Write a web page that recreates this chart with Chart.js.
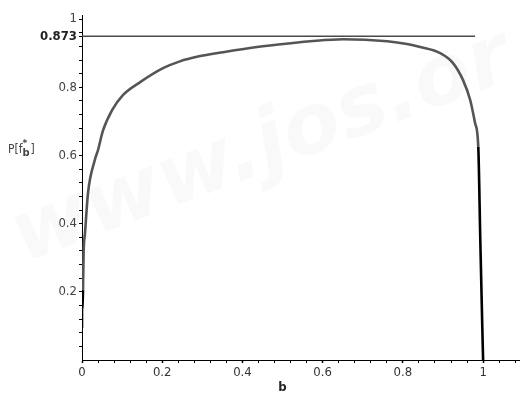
<!DOCTYPE html>
<html><head><meta charset="utf-8">
<script src="https://cdn.jsdelivr.net/npm/chart.js@4"></script>
<style>html,body{margin:0;padding:0;background:#fff}#wrap{width:520px;height:395px;position:relative}</style>
</head><body><div id="wrap"><canvas id="c"></canvas></div>
<script>
const bValues = [0.0, 0.0, 0.0025, 0.004, 0.0075, 0.015, 0.032, 0.040, 0.052, 0.075, 0.102, 0.145, 0.202, 0.244, 0.289, 0.352, 0.436, 0.526, 0.569, 0.651, 0.761, 0.810, 0.843, 0.893, 0.925, 0.950, 0.968, 0.980, 0.988, 0.993, 0.998, 1.0];
const pValues = [0.094, 0.147, 0.205, 0.314, 0.372, 0.490, 0.587, 0.616, 0.672, 0.733, 0.777, 0.815, 0.856, 0.876, 0.890, 0.903, 0.918, 0.930, 0.935, 0.941, 0.935, 0.927, 0.918, 0.900, 0.871, 0.821, 0.762, 0.695, 0.625, 0.352, 0.097, 0.0];
const refLineX = [0, 0.98];
const refLineY = [0.95, 0.95];
const xTickLabels = {0: '0', 0.2: '0.2', 0.4: '0.4', 0.6: '0.6', 0.8: '0.8', 1: '1'};
const yTickLabels = {0.2: '0.2', 0.4: '0.4', 0.6: '0.6', 0.8: '0.8', 0.95: '0.873', 1: '1'};

const curve = bValues.map((b, i) => ({x: b, y: pValues[i]}));
const ref = refLineX.map((x, i) => ({x: x, y: refLineY[i]}));

function keyOf(v){ return String(Math.round(v*1000)/1000); }
function lbl(map, v){ const k = keyOf(v); for (const m in map){ if (keyOf(+m) === k) return map[m]; } return ''; }

const extras = {
  id: 'extras',
  beforeDraw(chart){
    const ctx = chart.ctx;
    ctx.save();
    ctx.translate(270, 170);
    ctx.rotate(-0.36);
    ctx.font = 'italic bold 84px "DejaVu Sans"';
    ctx.fillStyle = 'rgba(0,0,0,0.025)';
    ctx.shadowColor = 'rgba(0,0,0,0.06)';
    ctx.shadowBlur = 18;
    ctx.textAlign = 'center';
    ctx.fillText('www.jos.or', 0, 0);
    ctx.restore();
  },
  afterDraw(chart){
    const ctx = chart.ctx;
    const xs = chart.scales.x;
    ctx.save();
    ctx.fillStyle = '#222';
    ctx.font = 'bold 13px "Liberation Sans Narrow","DejaVu Sans Condensed",sans-serif';
    ctx.textAlign = 'center';
    ctx.textBaseline = 'middle';
    ctx.fillText('b', xs.getPixelForValue(0.5), 388);
    // y title P[f_b^*]
    ctx.fillStyle = '#444';
    ctx.textAlign = 'left';
    ctx.font = '12px "DejaVu Sans Condensed",sans-serif';
    let x0 = 8, y0 = 150;
    ctx.fillText('P[f', x0, y0);
    let w = ctx.measureText('P[f').width;
    ctx.font = 'bold 11px "DejaVu Sans Condensed",sans-serif';
    ctx.fillText('b', x0 + w, y0 + 3);
    let w2 = ctx.measureText('b').width + 1;
    ctx.font = 'bold 9px "DejaVu Sans",sans-serif';
    ctx.fillText('*', x0 + w, y0 - 6);
    ctx.font = '12px "DejaVu Sans Condensed",sans-serif';
    ctx.fillText(']', x0 + w + w2, y0);
    ctx.restore();
  }
};

new Chart(document.getElementById('c'), {
  type: 'scatter',
  data: {
    datasets: [
      {
        data: ref, showLine: true, pointRadius: 0, borderColor: '#4a4a4a', borderWidth: 1.5, tension: 0
      },
      {
        data: curve, showLine: true, pointRadius: 0, borderWidth: 2.6, cubicInterpolationMode: 'monotone',
        borderColor: '#555',
        segment: {
          borderColor: ctx => {
            const p = ctx.p0.parsed, q = ctx.p1.parsed;
            if ((p.x < 0.003 && q.y < 0.31) || (p.x > 0.985 && q.y < 0.65)) return '#000';
            return '#555';
          }
        }
      }
    ]
  },
  options: {
    responsive: true, maintainAspectRatio: false, animation: false,
    devicePixelRatio: 1,
    layout: {padding: {top: 15, right: 0, left: 0, bottom: 0}},
    plugins: {legend: {display: false}, tooltip: {enabled: false}},
    scales: {
      x: {
        type: 'linear', min: 0, max: 1.092,
        afterFit(s){ s.height = 35; },
        afterBuildTicks(s){ const t = []; for (let i = 0; i <= 27; i++) t.push({value: Math.round(i*0.04*1000)/1000}); s.ticks = t; },
        border: {display: true, color: '#000', width: 1},
        grid: {drawOnChartArea: false, drawTicks: true, tickLength: 3, tickColor: '#000', tickWidth: c => (c.tick && lbl(xTickLabels, c.tick.value) ? 1.5 : 1)},
        ticks: {
          autoSkip: false, maxRotation: 0, padding: 2, color: '#333',
          font: {family: '"DejaVu Sans Condensed", sans-serif', size: 13},
          callback: v => lbl(xTickLabels, v)
        }
      },
      y: {
        type: 'linear', min: 0, max: 1.012,
        afterFit(s){ s.width = 82; },
        afterBuildTicks(s){ const t = []; for (let i = 1; i <= 25; i++) t.push({value: Math.round(i*0.04*1000)/1000}); t.push({value: 0.95}); t.sort((a,b)=>a.value-b.value); s.ticks = t; },
        border: {display: true, color: '#000', width: 1},
        grid: {drawOnChartArea: false, drawTicks: true, tickLength: 3, tickColor: '#000'},
        ticks: {
          autoSkip: false, padding: 2,
          color: c => (c.tick && Math.abs(c.tick.value - 0.95) < 1e-6 ? '#222' : '#444'),
          font: c => (c.tick && Math.abs(c.tick.value - 0.95) < 1e-6 ? {family: '"DejaVu Sans Condensed", sans-serif', size: 13, weight: 'bold'} : {family: '"DejaVu Sans Condensed", sans-serif', size: 13}),
          callback: v => lbl(yTickLabels, v)
        }
      }
    }
  },
  plugins: [extras]
});
</script></body></html>
